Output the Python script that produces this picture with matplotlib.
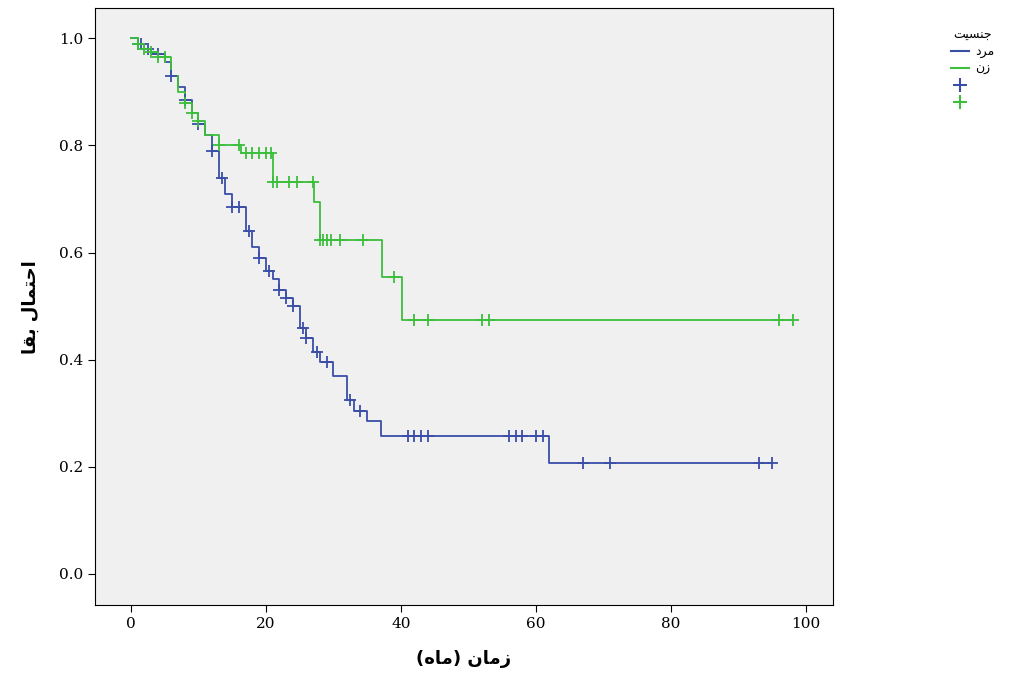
import matplotlib
matplotlib.use("Agg")
import matplotlib.pyplot as plt
from matplotlib.lines import Line2D

# Kaplan-Meier step data
male_t = [0, 1, 2, 3, 5, 6, 7, 8, 9, 10, 11, 12, 13, 14, 15, 17, 18, 19, 20, 21, 22,
          23, 24, 25, 26, 27, 28, 30, 32, 33, 35, 37, 62, 95]
male_s = [1.0, 0.99, 0.98, 0.97, 0.955, 0.93, 0.91, 0.885, 0.86, 0.84, 0.82, 0.79, 0.74,
          0.71, 0.685, 0.64, 0.61, 0.59, 0.565, 0.55, 0.53, 0.515, 0.50, 0.46, 0.44,
          0.415, 0.395, 0.37, 0.325, 0.305, 0.285, 0.258, 0.207, 0.207]
male_cens_t = [1, 1.5, 2.5, 4, 6, 8, 10, 12, 13.5, 15, 16, 17.5, 19, 20.5, 22, 23, 24,
               25.5, 26, 27.5, 29, 32.5, 34, 41, 42, 43, 44, 56, 57, 58, 60, 61, 67, 71, 93, 95]

female_t = [0, 1, 2, 3, 4, 6, 7, 8, 9, 10, 11, 13, 16.3, 21, 27.1, 28, 37.2, 40.1, 98]
female_s = [1.0, 0.99, 0.98, 0.975, 0.965, 0.93, 0.90, 0.88, 0.86, 0.845, 0.82, 0.80,
            0.785, 0.731, 0.695, 0.623, 0.554, 0.474, 0.474]
female_cens_t = [1, 2, 3, 4, 5, 8, 9, 10, 13, 16, 17, 18, 19, 20, 20.7, 21, 21.6, 23.5,
                 24.6, 27, 28, 28.5, 29, 29.7, 31, 34.4, 39, 42, 44, 52, 53, 96, 98]

BLUE = "#3a4ea8"
GREEN = "#3cbf3c"


def surv_at(ts, ss, t):
    v = ss[0]
    for a, b in zip(ts, ss):
        if a <= t:
            v = b
    return v


plt.rcParams["font.family"] = ["DejaVu Serif"]
fig = plt.figure(figsize=(10.16, 6.93), dpi=100)
ax = fig.add_axes([0.0935, 0.127, 0.7265, 0.861])
ax.set_facecolor("#f0f0f0")

ax.step(male_t, male_s, where="post", color=BLUE, lw=1.3)
ax.step(female_t, female_s, where="post", color=GREEN, lw=1.3)
ax.plot(male_cens_t, [surv_at(male_t, male_s, t) for t in male_cens_t], "+",
        color=BLUE, ms=9, mew=1.3)
ax.plot(female_cens_t, [surv_at(female_t, female_s, t) for t in female_cens_t], "+",
        color=GREEN, ms=9, mew=1.3)

ax.set_xlim(-5.3, 104)
ax.set_ylim(-0.058, 1.056)
ax.set_xticks([0, 20, 40, 60, 80, 100])
ax.set_yticks([0, 0.2, 0.4, 0.6, 0.8, 1.0])
ax.set_yticklabels(["0.0", "0.2", "0.4", "0.6", "0.8", "1.0"])
ax.tick_params(labelsize=11, length=5)

ar = ["DejaVu Sans"]
ax.set_xlabel("(\uFEE9\uFE8E\uFEE3) \uFEE5\uFE8E\uFEE3\uFEAF", fontsize=13,
              fontweight="bold", family=ar, labelpad=14)
ax.set_ylabel("\uFE8E\uFED8\uFE91 \uFEDD\uFE8E\uFEE4\uFE98\uFEA3\uFE8D", fontsize=13,
              fontweight="bold", family=ar, labelpad=14)

handles = [
    Line2D([0], [0], color=BLUE, lw=1.5, drawstyle="steps-post"),
    Line2D([0], [0], color=GREEN, lw=1.5, drawstyle="steps-post"),
    Line2D([0], [0], color=BLUE, marker="+", ls="none", ms=10, mew=1.5),
    Line2D([0], [0], color=GREEN, marker="+", ls="none", ms=10, mew=1.5),
]
labels = ["\uFEA9\uFEAE\uFEE3", "\uFEE5\uFEAF", "", ""]
leg = fig.legend(handles, labels, loc="upper left", bbox_to_anchor=(0.925, 0.975),
                 frameon=False, title="\uFE96\uFEF4\uFEB4\uFEE8\uFE9F",
                 prop={"family": ar, "size": 9}, handlelength=1.4,
                 handletextpad=0.5, labelspacing=0.3)
leg.get_title().set_family(ar)
leg.get_title().set_fontsize(9)

fig.savefig("out.png", dpi=100, facecolor="white")
